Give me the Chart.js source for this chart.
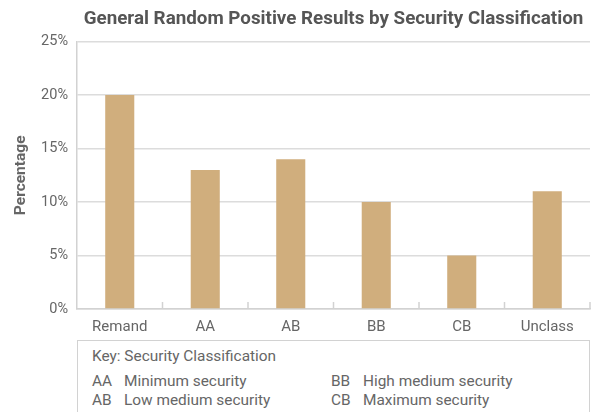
<!DOCTYPE html>
<html>
<head>
<meta charset="utf-8">
<script src="https://cdn.jsdelivr.net/npm/chart.js@4/dist/chart.umd.min.js"></script>
<style>
  html, body { margin: 0; padding: 0; background: #fff; }
  #wrap { position: relative; width: 592px; height: 412px; overflow: hidden; font-family: Roboto, "Noto Sans", sans-serif; }
  #chartBox { position: absolute; left: 0; top: 0; width: 592px; height: 338px; }
  #key { position: absolute; left: 77px; top: 340px; width: 511px; height: 90px;
         border: 1.5px solid #d2d2d2; color: #666; font-size: 15.4px; }
  #key .head { position: absolute; left: 14px; top: 6px; }
  #key .row { position: absolute; white-space: nowrap; }
  #key .code { display: inline-block; width: 32px; }
</style>
</head>
<body>
<div id="wrap">
  <div id="chartBox"><canvas id="c"></canvas></div>
  <div id="key">
    <div class="head">Key: Security Classification</div>
    <div class="row" style="left:14px; top:31px"><span class="code">AA</span>Minimum security</div>
    <div class="row" style="left:14px; top:50px"><span class="code">AB</span>Low medium security</div>
    <div class="row" style="left:253px; top:31px"><span class="code">BB</span>High medium security</div>
    <div class="row" style="left:253px; top:50px"><span class="code">CB</span>Maximum security</div>
  </div>
</div>
<script>
const categories = ['Remand', 'AA', 'AB', 'BB', 'CB', 'Unclass'];
const positiveRates = [20, 13, 14, 10, 5, 11];
const yTicks = [0, 5, 10, 15, 20, 25];

const GREY = '#666';
const BAR = '#D0AE7D';

// Short inward tick marks between categories along the x axis
const innerTicks = {
  id: 'innerTicks',
  afterDatasetsDraw(chart) {
    const x = chart.scales.x;
    const bottom = chart.chartArea.bottom;
    const ctx = chart.ctx;
    ctx.save();
    ctx.strokeStyle = '#d2d2d2';
    ctx.lineWidth = 1.5;
    for (let i = 1; i <= categories.length; i++) {
      const px = i < categories.length
        ? (x.getPixelForValue(i - 1) + x.getPixelForValue(i)) / 2
        : chart.chartArea.right;
      ctx.beginPath();
      ctx.moveTo(px, bottom - 7);
      ctx.lineTo(px, bottom);
      ctx.stroke();
    }
    ctx.restore();
  }
};

new Chart(document.getElementById('c'), {
  type: 'bar',
  data: {
    labels: categories,
    datasets: [{
      data: positiveRates,
      backgroundColor: BAR,
      borderWidth: 0,
      categoryPercentage: 1,
      barPercentage: 0.34
    }]
  },
  options: {
    responsive: true,
    maintainAspectRatio: false,
    animation: false,
    layout: { padding: { left: 0, right: 2, top: 0, bottom: 0 } },
    plugins: {
      legend: { display: false },
      tooltip: { enabled: false },
      title: {
        display: true,
        fullSize: false,
        text: 'General Random Positive Results by Security Classification',
        color: '#555',
        font: { family: 'Roboto', size: 18.8, weight: 'bold' },
        padding: { top: 8, bottom: 11 }
      }
    },
    scales: {
      x: {
        grid: { display: false },
        border: { display: true, color: '#d2d2d2', width: 1.5 },
        ticks: { color: GREY, font: { family: 'Roboto', size: 15 }, padding: 1 },
        afterFit(s) { s.height = 29; }
      },
      y: {
        min: 0,
        max: 25,
        afterBuildTicks(s) { s.ticks = yTicks.map(v => ({ value: v })); },
        grid: { color: '#dcdcdc', lineWidth: 1.5, drawTicks: false },
        border: { display: true, color: '#d2d2d2', width: 1.5 },
        ticks: {
          color: GREY,
          font: { family: 'Roboto', size: 14.5 },
          padding: 9,
          callback: v => v + '%'
        },
        title: {
          display: true,
          text: 'Percentage',
          color: GREY,
          font: { family: 'Roboto', size: 15.5, weight: 'bold' },
          padding: { top: 12, bottom: 4 }
        },
        afterFit(s) { s.width = 77; }
      }
    }
  },
  plugins: [innerTicks]
});
</script>
</body>
</html>
